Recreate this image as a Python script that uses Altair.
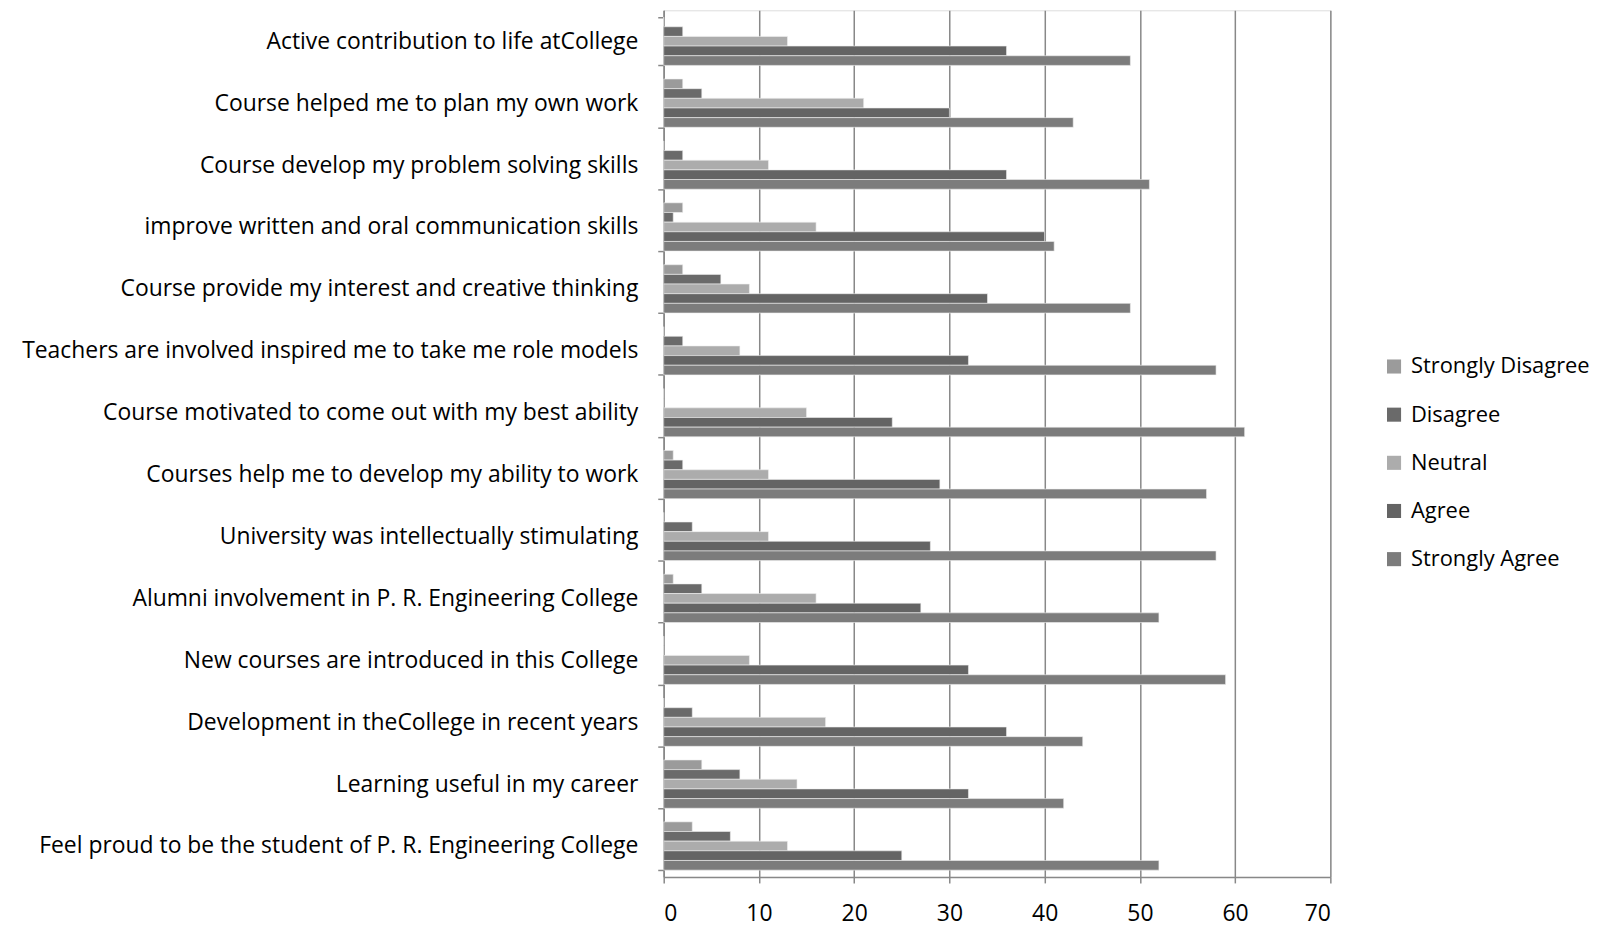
import altair as alt
import pandas as pd

categories = [
    "Active contribution to life atCollege ",
    "Course helped  me to plan my own work",
    "Course develop my problem solving skills",
    "improve written and oral communication skills",
    "Course provide my interest and creative thinking",
    "Teachers are involved inspired me to take me role models",
    "Course motivated to come out with my best ability",
    "Courses help me to develop my ability to work",
    "University was intellectually stimulating",
    "Alumni involvement in P. R. Engineering College",
    "New courses are introduced in this College",
    "Development in theCollege in recent years ",
    "Learning useful in my career",
    "Feel proud to be the student of P. R. Engineering College",
]

series = ["Strongly Disagree", "Disagree", "Neutral", "Agree", "Strongly Agree"]
colors = ["#9b9b9b", "#6a6a6a", "#acacac", "#646464", "#7c7c7c"]

strongly_disagree = [0, 2, 0, 2, 2, 0, 0, 1, 0, 1, 0, 0, 4, 3]
disagree = [2, 4, 2, 1, 6, 2, 0, 2, 3, 4, 0, 3, 8, 7]
neutral = [13, 21, 11, 16, 9, 8, 15, 11, 11, 16, 9, 17, 14, 13]
agree = [36, 30, 36, 40, 34, 32, 24, 29, 28, 27, 32, 36, 32, 25]
strongly_agree = [49, 43, 51, 41, 49, 58, 61, 57, 58, 52, 59, 44, 42, 52]

values = [strongly_disagree, disagree, neutral, agree, strongly_agree]
rows = []
for s, vals in zip(series, values):
    for c, v in zip(categories, vals):
        rows.append({"category": c, "series": s, "value": v})
df = pd.DataFrame(rows)

FONT = "Open Sans"
FS = 23

chart = alt.Chart(df).mark_bar(stroke="#f0f0f0", strokeWidth=0.6).encode(
    y=alt.Y(
        "category:N",
        sort=categories,
        title=None,
        scale=alt.Scale(paddingInner=0.22, paddingOuter=0.11),
        axis=alt.Axis(
            tickBand="extent",
            tickSize=6,
            tickColor="#888888",
            tickWidth=1.5,
            domainColor="#888888",
            domainWidth=1.5,
            labelFontSize=FS,
            labelFont=FONT,
            labelColor="#000000",
            labelPadding=20,
            labelLimit=1000,
            grid=False,
        ),
    ),
    yOffset=alt.YOffset("series:N", sort=series),
    x=alt.X(
        "value:Q",
        title=None,
        scale=alt.Scale(domain=[0, 70], nice=False),
        axis=alt.Axis(
            values=[0, 10, 20, 30, 40, 50, 60, 70],
            grid=True,
            gridColor="#888888",
            gridWidth=1.5,
            tickSize=6,
            tickColor="#888888",
            tickWidth=1.5,
            domainColor="#888888",
            domainWidth=1.5,
            labelFontSize=FS,
            labelFont=FONT,
            labelColor="#000000",
            labelPadding=20,
        ),
    ),
    color=alt.Color(
        "series:N",
        sort=series,
        scale=alt.Scale(domain=series, range=colors),
        legend=alt.Legend(
            title=None,
            orient="none",
            legendX=723,
            legendY=347,
            symbolType="square",
            symbolSize=200,
            symbolStrokeWidth=0,
            labelFontSize=22,
            labelFont=FONT,
            labelColor="#000000",
            labelLimit=400,
            rowPadding=26.4,
            labelOffset=6,
        ),
    ),
).properties(
    width=670,
    height=871,
    autosize=alt.AutoSizeParams(type="none"),
    padding={"left": 659, "top": 0, "right": 271, "bottom": 48},
).configure_view(stroke=None).configure(background="white")

chart.save("out.html", embed_options={"renderer": "svg", "actions": False})
